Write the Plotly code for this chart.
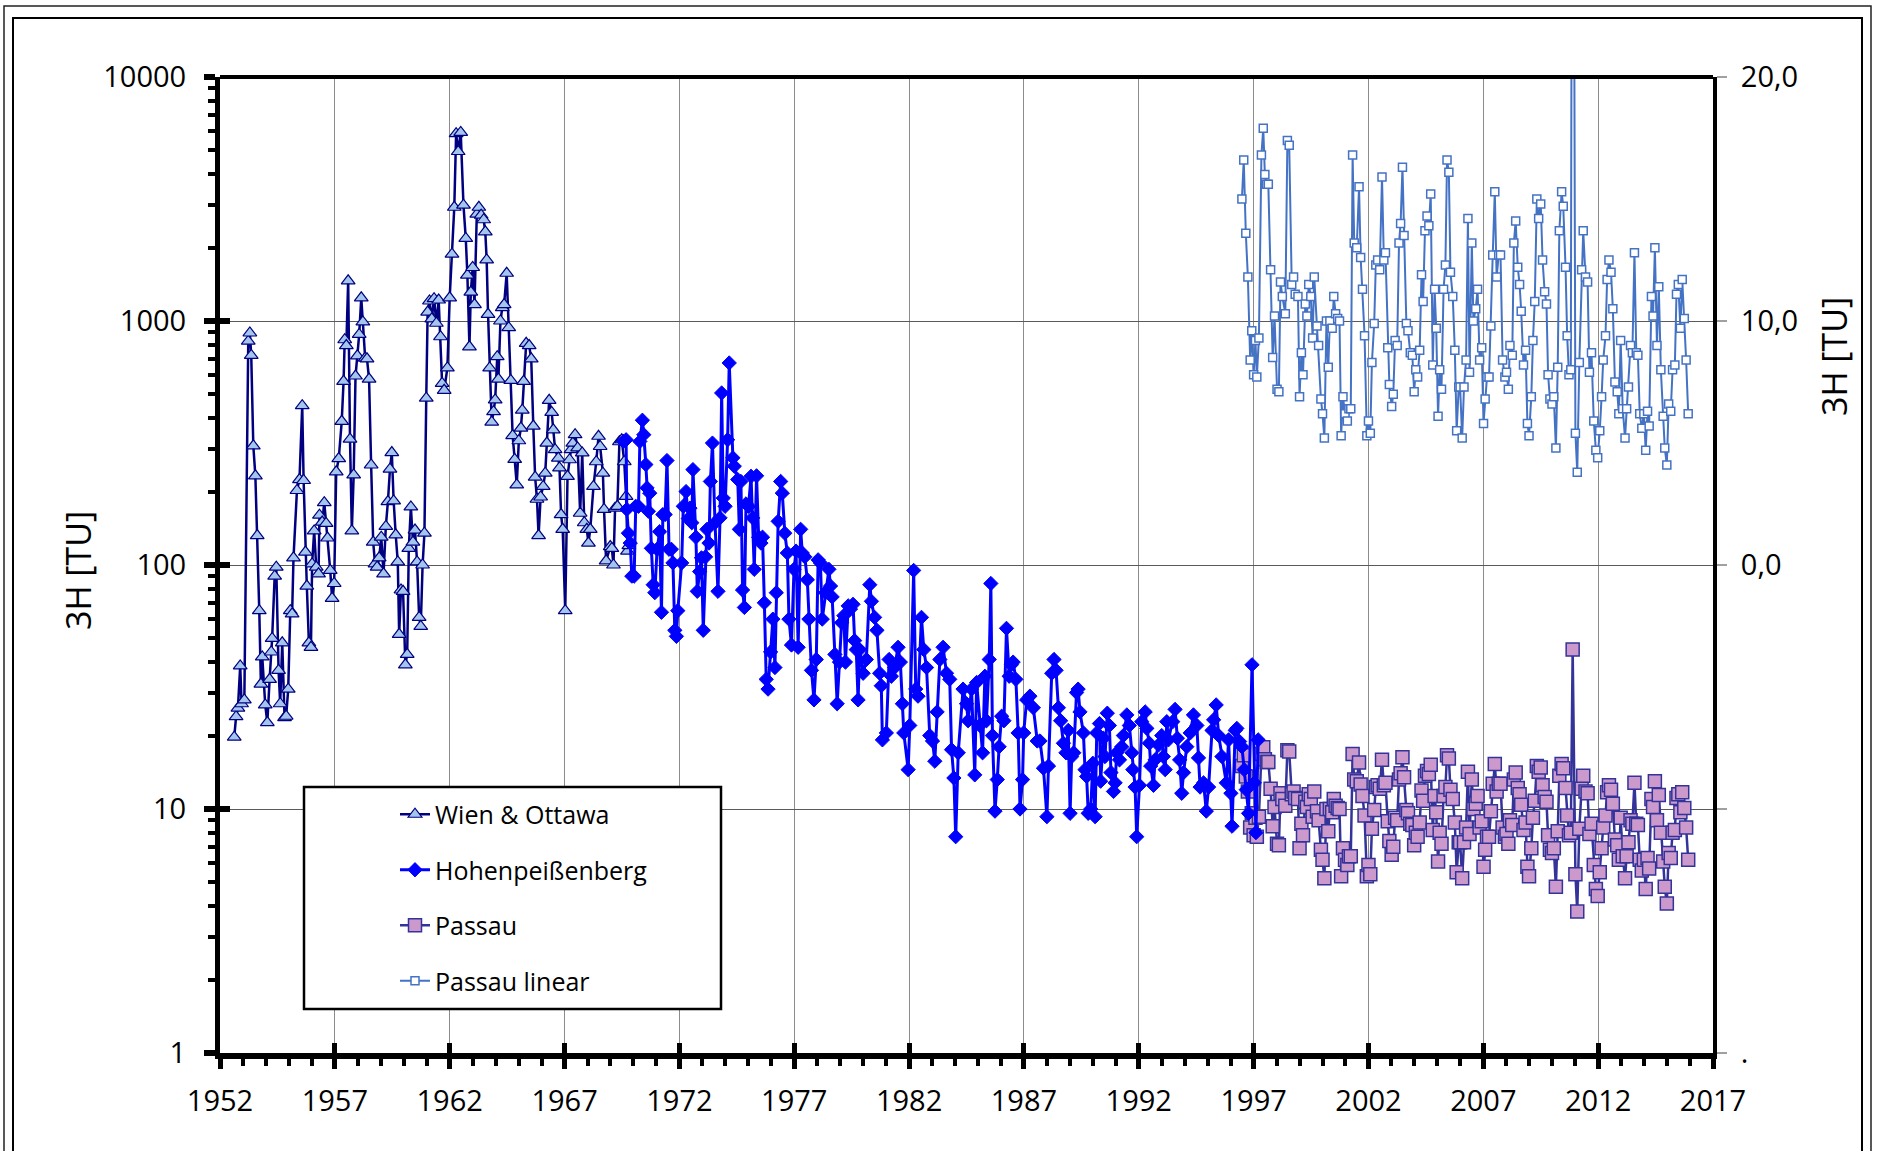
import plotly.graph_objects as go

# ---------------- data ----------------
wien_year = [1952.62, 1952.70, 1952.78, 1952.88, 1952.94, 1953.06, 1953.23, 1953.30, 1953.36, 1953.45,
             1953.54, 1953.62, 1953.71, 1953.78, 1953.84, 1953.97, 1954.06, 1954.16, 1954.23, 1954.27,
             1954.38, 1954.45, 1954.55, 1954.62, 1954.71, 1954.81, 1954.88, 1954.97, 1955.06, 1955.14,
             1955.20, 1955.35, 1955.46, 1955.58, 1955.64, 1955.72, 1955.78, 1955.87, 1955.96, 1956.01,
             1956.10, 1956.19, 1956.29, 1956.33, 1956.45, 1956.54, 1956.62, 1956.68, 1956.80, 1956.88,
             1956.97, 1957.06, 1957.17, 1957.30, 1957.38, 1957.43, 1957.50, 1957.58, 1957.66, 1957.74,
             1957.82, 1957.90, 1957.98, 1958.06, 1958.15, 1958.22, 1958.32, 1958.40, 1958.49, 1958.58,
             1958.67, 1958.75, 1958.84, 1958.93, 1959.02, 1959.12, 1959.22, 1959.31, 1959.40, 1959.48,
             1959.56, 1959.65, 1959.74, 1959.80, 1959.88, 1959.97, 1960.07, 1960.15, 1960.22, 1960.31,
             1960.40, 1960.49, 1960.58, 1960.67, 1960.74, 1960.82, 1960.90, 1960.98, 1961.04, 1961.12,
             1961.22, 1961.32, 1961.42, 1961.52, 1961.60, 1961.67, 1961.76, 1961.90, 1962.00, 1962.10,
             1962.20, 1962.28, 1962.37, 1962.48, 1962.60, 1962.70, 1962.77, 1962.86, 1962.92, 1963.00,
             1963.08, 1963.18, 1963.27, 1963.37, 1963.48, 1963.55, 1963.61, 1963.67, 1963.74, 1963.83,
             1963.91, 1963.98, 1964.07, 1964.12, 1964.21, 1964.29, 1964.37, 1964.48, 1964.57, 1964.66,
             1964.74, 1964.83, 1964.92, 1965.01, 1965.10, 1965.16, 1965.22, 1965.33, 1965.46, 1965.55,
             1965.64, 1965.72, 1965.80, 1965.87, 1965.96, 1966.07, 1966.16, 1966.23, 1966.33, 1966.44,
             1966.51, 1966.59, 1966.73, 1966.78, 1966.85, 1966.92, 1967.03, 1967.13, 1967.22, 1967.28,
             1967.36, 1967.46, 1967.57, 1967.68, 1967.77, 1967.86, 1967.97, 1968.04, 1968.12, 1968.26,
             1968.38, 1968.48, 1968.55, 1968.67, 1968.72, 1968.81, 1968.99, 1969.06, 1969.13, 1969.20,
             1969.30, 1969.39, 1969.49, 1969.60, 1969.68, 1969.74, 1969.80]
wien_tu = [19.7, 23.9, 25.9, 38.6, 27, 28, 827, 893, 723, 308,
           232, 132, 65, 32.5, 42, 26.7, 22.6, 34, 44, 50,
           90, 98, 37, 27, 48, 23.7, 24, 31, 65, 63,
           107, 202, 224, 450, 222, 113, 82, 48, 46, 101,
           138, 98, 92, 160, 150, 180, 148, 129, 95, 73,
           84, 241, 273, 388, 566, 838, 793, 1461, 328, 138,
           234, 595, 720, 881, 1245, 991, 705, 700, 578, 257,
           124, 101, 98, 107, 130, 92, 144, 182, 247, 289,
           183, 133, 103, 52, 79, 78, 39, 43, 117, 173,
           124, 139, 103, 61, 56, 100, 135, 483, 1088, 1208,
           1021, 1234, 979, 1219, 862, 555, 520, 642, 1245, 1880,
           2925, 5860, 4950, 5930, 2985, 2180, 1543, 784, 1314, 1657,
           1168, 2740, 2925, 2715, 2600, 2320, 1780, 1065, 642, 385,
           425, 475, 714, 578, 1000, 1135, 1168, 1569, 939, 571,
           339, 271, 213, 323, 364, 431, 566, 810, 793, 700,
           371, 229, 186, 132, 190, 210, 238, 316, 473, 422,
           358, 297, 274, 250, 161, 140, 65, 231, 270, 297,
           316, 342, 302, 163, 288, 149, 140, 123, 140, 210,
           265, 337, 306, 238, 169, 104, 119, 117, 100, 171,
           174, 320, 326, 265, 191, 114, 120]

hohen_year = [1969.57, 1969.68, 1969.71, 1969.78, 1969.86, 1969.93, 1970.03, 1970.10, 1970.22, 1970.28,
              1970.39, 1970.45, 1970.54, 1970.59, 1970.65, 1970.71, 1970.78, 1970.86, 1970.93, 1971.03,
              1971.14, 1971.22, 1971.28, 1971.38, 1971.46, 1971.55, 1971.65, 1971.72, 1971.80, 1971.87,
              1971.93, 1972.10, 1972.17, 1972.29, 1972.39, 1972.46, 1972.54, 1972.59, 1972.72, 1972.78,
              1972.88, 1972.96, 1973.04, 1973.14, 1973.20, 1973.29, 1973.35, 1973.44, 1973.55, 1973.68,
              1973.77, 1973.84, 1973.91, 1973.99, 1974.10, 1974.17, 1974.33, 1974.39, 1974.54, 1974.61,
              1974.68, 1974.75, 1974.83, 1974.90, 1975.01, 1975.12, 1975.19, 1975.26, 1975.36, 1975.45,
              1975.55, 1975.62, 1975.70, 1975.78, 1975.86, 1975.97, 1976.07, 1976.16, 1976.22, 1976.30,
              1976.41, 1976.48, 1976.59, 1976.70, 1976.77, 1976.88, 1976.99, 1977.08, 1977.17, 1977.28,
              1977.35, 1977.46, 1977.57, 1977.64, 1977.75, 1977.86, 1977.96, 1978.04, 1978.14, 1978.22,
              1978.36, 1978.51, 1978.58, 1978.65, 1978.77, 1978.87, 1978.97, 1979.06, 1979.16, 1979.23,
              1979.35, 1979.45, 1979.56, 1979.63, 1979.70, 1979.78, 1979.85, 1980.00, 1980.14, 1980.29,
              1980.36, 1980.50, 1980.60, 1980.72, 1980.79, 1980.84, 1981.01, 1981.13, 1981.23, 1981.37,
              1981.52, 1981.62, 1981.71, 1981.77, 1981.96, 1982.03, 1982.20, 1982.29, 1982.39, 1982.54,
              1982.64, 1982.76, 1982.90, 1983.02, 1983.12, 1983.22, 1983.34, 1983.48, 1983.63, 1983.77,
              1983.85, 1983.95, 1984.03, 1984.14, 1984.35, 1984.50, 1984.57, 1984.72, 1984.86, 1984.94,
              1985.08, 1985.20, 1985.30, 1985.37, 1985.49, 1985.56, 1985.63, 1985.74, 1985.84, 1985.92,
              1986.03, 1986.13, 1986.24, 1986.36, 1986.45, 1986.53, 1986.65, 1986.75, 1986.83, 1986.94,
              1986.99, 1987.12, 1987.26, 1987.41, 1987.58, 1987.70, 1987.85, 1988.00, 1988.07, 1988.21,
              1988.31, 1988.40, 1988.50, 1988.60, 1988.72, 1988.83, 1988.93, 1989.01, 1989.08, 1989.17,
              1989.29, 1989.36, 1989.44, 1989.59, 1989.66, 1989.73, 1989.80, 1989.91, 1990.00, 1990.10,
              1990.17, 1990.29, 1990.34, 1990.46, 1990.53, 1990.63, 1990.72, 1990.79, 1990.90, 1990.97,
              1991.04, 1991.16, 1991.26, 1991.33, 1991.48, 1991.59, 1991.70, 1991.74, 1991.84, 1991.91,
              1992.03, 1992.13, 1992.28, 1992.35, 1992.46, 1992.52, 1992.64, 1992.71, 1992.86, 1993.00,
              1993.07, 1993.15, 1993.22, 1993.29, 1993.48, 1993.58, 1993.68, 1993.78, 1993.87, 1993.95,
              1994.09, 1994.24, 1994.38, 1994.53, 1994.60, 1994.67, 1994.82, 1994.94, 1995.04, 1995.19,
              1995.26, 1995.37, 1995.48, 1995.62, 1995.81, 1995.91, 1996.01, 1996.06, 1996.20, 1996.27,
              1996.39, 1996.49, 1996.59, 1996.68, 1996.78, 1996.93, 1997.03, 1997.10, 1997.20]
hohen_tu = [321, 326, 169, 135, 123, 90, 90, 174, 174, 321,
            392, 342, 258, 207, 166, 197, 117, 83, 77, 116,
            137, 64, 161, 161, 268, 116, 116, 102, 54, 51,
            65, 102, 174, 200, 155, 171, 149, 246, 130, 78,
            94, 107, 54, 108, 140, 123, 220, 316, 149, 78,
            156, 507, 188, 174, 326, 673, 275, 254, 224, 140,
            220, 79, 67, 178, 174, 231, 156, 96, 232, 130,
            123, 130, 70, 34, 31, 44, 60, 38, 77, 151,
            220, 197, 135, 112, 60, 47, 96, 114, 46, 140,
            112, 108, 87, 60, 37, 28, 41, 105, 102, 60,
            77, 96, 82, 74, 43, 27, 40, 58, 62, 40,
            68, 66, 69, 49, 45, 28, 45, 36, 41, 83,
            71, 61, 54, 36, 32, 19.2, 20.5, 41, 35, 38,
            46, 40, 27, 20.5, 14.5, 22, 95, 31, 29, 61,
            45, 38, 20, 19, 15.7, 25, 41, 46, 36, 34,
            17.5, 13.4, 7.7, 17, 31, 27, 23, 31, 13.8, 33,
            22, 17, 35, 23, 41, 84, 20, 9.8, 13.2, 18,
            24, 23, 55, 35, 39, 40, 34, 20.5, 10, 13.2,
            20.5, 28, 29, 26, 19, 19, 14.7, 9.3, 15, 36,
            41, 37, 26, 23, 18.6, 17, 21, 9.6, 16.4, 17,
            30, 31, 25, 20.5, 14.5, 13.6, 9.6, 10, 15.4, 9.3,
            20.5, 22.4, 13, 19.5, 16.4, 24.7, 22, 14.1, 11.8, 12.8,
            17, 15.9, 18, 20, 24.3, 22, 17, 14.5, 12.3, 7.7,
            12.5, 22.8, 25, 21.4, 18.6, 15, 12.5, 15.9, 18.3, 20,
            16.4, 14.5, 22.8, 19.2, 22.8, 25.6, 19.5, 15.9, 11.6, 14.1,
            18, 20.5, 24.3, 22, 16.2, 12.3, 12.8, 9.8, 12.3, 21,
            23.2, 26.7, 20, 16.4, 12.8, 19.2, 11.6, 8.5, 21, 21.4,
            18.9, 18, 14.5, 12, 9.6, 39, 12.8, 8.0, 19.2]

passau_year = [1996.49, 1996.57, 1996.66, 1996.75, 1996.85, 1996.92, 1997.00, 1997.08, 1997.14, 1997.23,
               1997.34, 1997.42, 1997.49, 1997.57, 1997.64, 1997.74, 1997.83, 1997.91, 1998.02, 1998.10,
               1998.17, 1998.25, 1998.38, 1998.47, 1998.55, 1998.66, 1998.74, 1998.81, 1998.93, 1999.00,
               1999.08, 1999.15, 1999.25, 1999.32, 1999.40, 1999.49, 1999.57, 1999.64, 1999.76, 1999.83,
               1999.93, 2000.00, 2000.08, 2000.17, 2000.25, 2000.32, 2000.42, 2000.49, 2000.57, 2000.66,
               2000.74, 2000.81, 2000.89, 2000.98, 2001.08, 2001.15, 2001.23, 2001.31, 2001.38, 2001.49,
               2001.59, 2001.66, 2001.74, 2001.83, 2001.93, 2002.00, 2002.08, 2002.15, 2002.25, 2002.32,
               2002.40, 2002.49, 2002.59, 2002.67, 2002.74, 2002.84, 2002.91, 2003.01, 2003.08, 2003.16,
               2003.25, 2003.33, 2003.40, 2003.48, 2003.55, 2003.65, 2003.72, 2003.82, 2003.91, 2003.99,
               2004.06, 2004.14, 2004.23, 2004.31, 2004.38, 2004.46, 2004.55, 2004.63, 2004.71, 2004.80,
               2004.88, 2004.95, 2005.03, 2005.10, 2005.18, 2005.27, 2005.35, 2005.42, 2005.50, 2005.57,
               2005.67, 2005.76, 2005.84, 2005.93, 2005.99, 2006.08, 2006.16, 2006.25, 2006.33, 2006.40,
               2006.50, 2006.57, 2006.67, 2006.75, 2006.84, 2006.93, 2007.01, 2007.08, 2007.16, 2007.25,
               2007.33, 2007.41, 2007.50, 2007.58, 2007.67, 2007.75, 2007.84, 2007.94, 2008.01, 2008.09,
               2008.16, 2008.26, 2008.33, 2008.41, 2008.50, 2008.58, 2008.65, 2008.75, 2008.84, 2008.92,
               2008.99, 2009.09, 2009.16, 2009.24, 2009.33, 2009.41, 2009.50, 2009.58, 2009.67, 2009.75,
               2009.82, 2009.90, 2009.99, 2010.07, 2010.16, 2010.24, 2010.31, 2010.41, 2010.48, 2010.58,
               2010.65, 2010.73, 2010.81, 2010.89, 2011.01, 2011.09, 2011.18, 2011.28, 2011.35, 2011.45,
               2011.54, 2011.62, 2011.71, 2011.81, 2011.90, 2011.98, 2012.07, 2012.15, 2012.22, 2012.32,
               2012.39, 2012.47, 2012.56, 2012.64, 2012.73, 2012.83, 2012.90, 2012.98, 2013.07, 2013.17,
               2013.24, 2013.32, 2013.41, 2013.49, 2013.58, 2013.66, 2013.73, 2013.81, 2013.90, 2013.99,
               2014.07, 2014.15, 2014.22, 2014.32, 2014.39, 2014.47, 2014.56, 2014.64, 2014.73, 2014.83,
               2014.90, 2014.99, 2015.07, 2015.16, 2015.24, 2015.34, 2015.41, 2015.49, 2015.58, 2015.66,
               2015.75, 2015.83, 2015.92]
passau_tu = [15.0, 16.6, 13.6, 11.8, 8.4, 9.6, 7.8, 9.2, 7.7, 9.3,
             16.8, 17.9, 16.0, 15.6, 15.6, 12.1, 8.5, 10.2, 7.2, 7.1,
             11.6, 11.0, 10.3, 17.4, 17.2, 11.5, 11.8, 11.1, 11.0, 6.9,
             8.7, 7.8, 10.7, 10.2, 11.5, 11.0, 9.3, 11.8, 9.8, 9.0,
             6.8, 6.2, 5.2, 10.0, 8.1, 10.0, 9.7, 11.0, 10.3, 10.1,
             10.0, 5.3, 6.9, 6.2, 5.9, 6.4, 6.4, 16.8, 13.2, 13.0,
             15.5, 12.6, 11.3, 9.4, 5.3, 5.9, 5.4, 8.3, 9.9, 12.3,
             12.5, 12.1, 15.9, 12.5, 12.8, 8.9, 7.4, 6.5, 7.0, 9.2,
             9.0, 13.2, 14.0, 16.3, 13.5, 9.9, 9.6, 8.7, 8.6, 7.1,
             8.0, 7.7, 8.8, 11.9, 10.8, 13.7, 14.3, 13.9, 15.2, 8.2,
             11.3, 9.7, 6.1, 8.0, 7.2, 11.3, 12.3, 16.6, 16.1, 12.0,
             11.0, 8.8, 5.5, 7.3, 7.3, 5.2, 7.3, 8.4, 14.2, 7.9,
             13.2, 10.0, 10.5, 11.3, 8.4, 8.9, 5.8, 6.8, 7.7, 7.7,
             9.8, 12.7, 15.3, 11.8, 12.7, 12.7, 8.4, 7.7, 7.9, 7.2,
             9.0, 8.6, 13.2, 14.1, 12.2, 11.5, 10.4, 8.2, 8.8, 5.8,
             5.3, 6.9, 9.2, 10.8, 15.0, 14.2, 14.8, 12.5, 11.2, 10.7,
             7.8, 6.8, 6.6, 6.9, 4.8, 8.1, 13.7, 15.3, 14.7, 12.2,
             9.4, 7.8, 8.0, 45.0, 5.4, 3.8, 8.3, 12.1, 13.7, 11.8,
             11.6, 7.9, 8.7, 5.9, 4.7, 4.4, 5.5, 6.9, 8.4, 9.4,
             11.7, 12.5, 12.0, 10.5, 7.5, 7.1, 6.2, 9.2, 6.4, 5.2,
             6.4, 7.3, 9.0, 8.7, 12.8, 8.7, 8.6, 6.2, 5.6, 6.2,
             4.7, 6.3, 5.7, 11.0, 10.2, 13.0, 9.0, 11.4, 8.0, 6.1,
             4.8, 4.1, 6.6, 6.3, 8.0, 8.2, 11.1, 11.5, 9.7, 11.7,
             10.1, 8.4, 6.2]

log_tickvals = [1, 10, 100, 1000, 10000]
log_ticktext = ["1", "10", "100", "1000", "10000"]
lin_tickvals = [-20, -10, 0, 10, 20]
lin_ticktext = [".", "", "0,0", "10,0", "20,0"]

# ---------------- figure ----------------
W, H = 1881, 1151
ML, MR, MT, MB = 220, 168, 77, 98
PW, PH = W - ML - MR, H - MT - MB


def px(X):
    return (X - ML) / PW


def py(Y):
    return (H - MB - Y) / PH


FONT = "Open Sans, Noto Sans, sans-serif"

fig = go.Figure()

fig.add_trace(go.Scatter(
    x=wien_year, y=wien_tu, name="Wien & Ottawa", mode="lines+markers",
    line=dict(color="#000080", width=2.5),
    marker=dict(symbol="triangle-up", size=12, color="#A4C6EC", line=dict(color="#000080", width=1.2)),
    legendgroup="a", legendrank=1))

fig.add_trace(go.Scatter(
    x=passau_year, y=passau_tu, name="Passau", mode="lines+markers",
    line=dict(color="#333399", width=2.5),
    marker=dict(symbol="square", size=13, color="#CC99CC", line=dict(color="#333399", width=1.5)),
    legendgroup="c", legendrank=3))

fig.add_trace(go.Scatter(
    x=hohen_year, y=hohen_tu, name="Hohenpeißenberg", mode="lines+markers",
    line=dict(color="#0000FF", width=3),
    marker=dict(symbol="diamond", size=11, color="#0000FF", line=dict(color="#0000FF", width=1)),
    legendgroup="b", legendrank=2))

fig.add_trace(go.Scatter(
    x=passau_year, y=passau_tu, name="Passau linear", mode="lines+markers", yaxis="y2",
    line=dict(color="#4472C4", width=2),
    marker=dict(symbol="square", size=8, color="white", line=dict(color="#4472C4", width=1.5)),
    legendgroup="d", legendrank=4))

# empty trace that only carries the inner half of the crossing major ticks
fig.add_trace(go.Scatter(x=[None], y=[None], xaxis="x2", yaxis="y3", showlegend=False, hoverinfo="skip"))

fig.update_layout(
    width=W, height=H,
    margin=dict(l=ML, r=MR, t=MT, b=MB, pad=0),
    paper_bgcolor="white", plot_bgcolor="white",
    font=dict(family=FONT, color="black", size=29),
    showlegend=True,
    legend=dict(x=px(395), y=py(791.5), xanchor="left", yanchor="top",
                bgcolor="rgba(0,0,0,0)", borderwidth=0,
                font=dict(size=25, family=FONT, color="black"),
                tracegroupgap=20, traceorder="grouped"),
    xaxis=dict(range=[1952, 2017], tickmode="linear", tick0=1952, dtick=5,
               ticks="outside", ticklen=10, tickwidth=5, tickcolor="black",
               showline=True, linewidth=6, linecolor="black", mirror=False,
               showgrid=True, gridcolor="#8C8C8C", gridwidth=1, zeroline=False,
               tickfont=dict(size=29), ticklabelstandoff=7,
               minor=dict(dtick=1, tick0=1952, ticks="outside", ticklen=7, tickwidth=4,
                          tickcolor="black", showgrid=False)),
    xaxis2=dict(overlaying="x", anchor="y", side="bottom", range=[1952, 2017], tickmode="linear",
                tick0=1952, dtick=5, ticks="inside", ticklen=10, tickwidth=5, tickcolor="black",
                showticklabels=False, showgrid=False, zeroline=False, showline=False),
    yaxis=dict(type="log", range=[0, 4], tickmode="array", tickvals=log_tickvals, ticktext=log_ticktext,
               ticks="outside", ticklen=11, tickwidth=6, tickcolor="black",
               showline=True, linewidth=5, linecolor="black",
               showgrid=True, gridcolor="#5A5A5A", gridwidth=1, zeroline=False,
               tickfont=dict(size=29), ticklabelstandoff=12,
               minor=dict(dtick="D1", ticks="outside", ticklen=7, tickwidth=4,
                          tickcolor="black", showgrid=False)),
    yaxis3=dict(overlaying="y", anchor="x", side="left", type="log", range=[0, 4], tickmode="array",
                tickvals=log_tickvals, ticks="inside", ticklen=10, tickwidth=6, tickcolor="black",
                showticklabels=False, showgrid=False, zeroline=False, showline=False),
    yaxis2=dict(overlaying="y", side="right", range=[-20, 20], tickmode="array",
                tickvals=lin_tickvals, ticktext=lin_ticktext,
                ticks="outside", ticklen=10, tickwidth=1.5, tickcolor="#A0A0A0",
                showline=True, linewidth=4, linecolor="black",
                showgrid=False, zeroline=False, tickfont=dict(size=29), ticklabelstandoff=8),
)

# titles
fig.add_annotation(text="3H [TU]", x=px(78), y=py(571), xref="paper", yref="paper",
                   textangle=-90, showarrow=False, xanchor="center", yanchor="middle",
                   font=dict(size=34, family=FONT, color="black"))
fig.add_annotation(text="3H [TU]", x=px(1834), y=py(357), xref="paper", yref="paper",
                   textangle=-90, showarrow=False, xanchor="center", yanchor="middle",
                   font=dict(size=34, family=FONT, color="black"))

# top border of the plot area
fig.add_shape(type="line", xref="paper", yref="paper", x0=0, x1=1, y0=1, y1=1,
              line=dict(color="black", width=4), layer="above")
# legend box
fig.add_shape(type="rect", xref="paper", yref="paper", x0=px(304), x1=px(721), y0=py(787), y1=py(1009),
              line=dict(color="black", width=2.5), fillcolor="white", layer="above")
# chart frames
fig.add_shape(type="rect", xref="paper", yref="paper", x0=px(4), x1=px(1871), y0=py(6), y1=py(1170),
              line=dict(color="#222222", width=1.5), fillcolor="rgba(0,0,0,0)", layer="above")
fig.add_shape(type="rect", xref="paper", yref="paper", x0=px(13), x1=px(1862), y0=py(18), y1=py(1170),
              line=dict(color="black", width=2), fillcolor="rgba(0,0,0,0)", layer="above")

fig.write_html("out.html", include_plotlyjs=True, config={"displayModeBar": False},
               post_script="document.body.style.margin='0';document.body.style.overflow='hidden';")
